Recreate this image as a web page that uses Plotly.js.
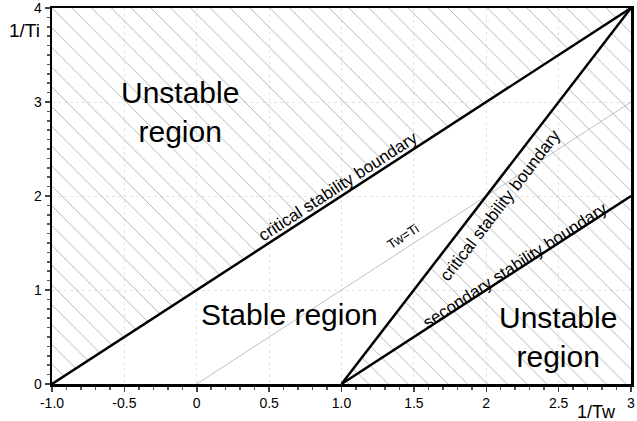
<!DOCTYPE html>
<html><head><meta charset="utf-8">
<script src="https://cdn.plot.ly/plotly-3.0.1.min.js"></script>
<style>body{margin:0}#c{width:637px;height:421px}</style>
</head><body><div id="c"></div>
<script>
// boundary lines (1/Tw, 1/Ti)
const critical1X = [-1, 3], critical1Y = [0, 4];
const critical2X = [1, 3], critical2Y = [0, 4];
const secondaryX = [1, 3], secondaryY = [0, 2];
const equalX = [0, 3], equalY = [0, 3];
// hatched unstable regions
const unstableAX = [-1, 3, -1, -1], unstableAY = [0, 4, 4, 0];
const unstableBX = [1, 3, 3, 1], unstableBY = [0, 4, 0, 0];
// ticks
const xTickVals = [-1, -0.5, 0, 0.5, 1, 1.5, 2, 2.5, 3];
const xTickText = ['-1.0', '-0.5', '0', '0.5', '1.0', '1.5', '2', '2.5', '3'];
const yTickVals = [0, 1, 2, 3, 4];
const yTickText = ['0', '1', '2', '3', '4'];

const hatch = {shape: '\\', size: 14, solidity: 0.06, fgcolor: '#a8a8a8', bgcolor: 'rgba(0,0,0,0)'};
const traces = [
  {x: unstableAX, y: unstableAY, mode: 'lines', fill: 'toself', fillcolor: 'rgba(0,0,0,0)', fillpattern: hatch, line: {width: 0}, hoverinfo: 'skip'},
  {x: unstableBX, y: unstableBY, mode: 'lines', fill: 'toself', fillcolor: 'rgba(0,0,0,0)', fillpattern: hatch, line: {width: 0}, hoverinfo: 'skip'},
  {x: equalX, y: equalY, mode: 'lines', line: {color: '#b0b0b0', width: 0.8}},
  {x: critical1X, y: critical1Y, mode: 'lines', line: {color: '#000', width: 2.5}},
  {x: critical2X, y: critical2Y, mode: 'lines', line: {color: '#000', width: 2.5}},
  {x: secondaryX, y: secondaryY, mode: 'lines', line: {color: '#000', width: 2.5}}
];
const f = "'Liberation Sans', Arial, sans-serif";
const layout = {
  width: 637, height: 421,
  margin: {l: 52, r: 6, t: 8, b: 37},
  showlegend: false,
  paper_bgcolor: '#fff', plot_bgcolor: '#fff',
  font: {family: f, color: '#000', size: 14},
  xaxis: {range: [-1, 3], tickvals: xTickVals, ticktext: xTickText, ticks: 'outside', ticklen: 5, tickwidth: 1.5,
    showline: true, linewidth: 2.5, linecolor: '#000', mirror: true, zeroline: false,
    showgrid: true, gridcolor: '#e4e4e4', griddash: 'dot', gridwidth: 1, ticklabeloverflow: 'allow',
    minor: {dtick: 0.1, ticks: 'outside', ticklen: 3, tickcolor: '#555', showgrid: false},
    tickfont: {family: f, size: 14}},
  yaxis: {range: [0, 4], tickvals: yTickVals, ticktext: yTickText, ticks: 'outside', ticklen: 5, tickwidth: 1.5,
    showline: true, linewidth: 2.5, linecolor: '#000', mirror: true, zeroline: false,
    showgrid: true, gridcolor: '#e4e4e4', griddash: 'dot', gridwidth: 1, ticklabeloverflow: 'allow',
    minor: {dtick: 0.1, ticks: 'outside', ticklen: 3, tickcolor: '#555', showgrid: false},
    tickfont: {family: f, size: 14}},
  annotations: [
    {x: -0.116, y: 2.894, text: 'Unstable<br>region', showarrow: false, font: {family: f, size: 30}},
    {x: 0.644, y: 0.74, text: 'Stable region', showarrow: false, font: {family: f, size: 30}},
    {x: 2.496, y: 0.50, text: 'Unstable<br>region', showarrow: false, font: {family: f, size: 30}},
    {x: 0.976, y: 2.106, text: 'critical stability boundary', showarrow: false, textangle: -33, font: {family: f, size: 17}},
    {x: 2.095, y: 1.904, text: 'critical stability boundary', showarrow: false, textangle: -52.4, font: {family: f, size: 17}},
    {x: 2.199, y: 1.266, text: 'secondary stability boundary', showarrow: false, textangle: -33, font: {family: f, size: 17}},
    {x: 1.425, y: 1.564, text: 'Tw=Ti', showarrow: false, textangle: -33, font: {family: f, size: 13}},
    {xref: 'paper', yref: 'paper', x: -0.048, y: 0.941, xanchor: 'center', yanchor: 'middle', text: '1/Ti', showarrow: false, font: {family: f, size: 19}},
    {xref: 'paper', yref: 'paper', x: 0.94, y: -0.075, xanchor: 'center', yanchor: 'middle', text: '1/Tw', showarrow: false, font: {family: f, size: 18}}
  ]
};
Plotly.newPlot('c', traces, layout, {staticPlot: true});
</script></body></html>
